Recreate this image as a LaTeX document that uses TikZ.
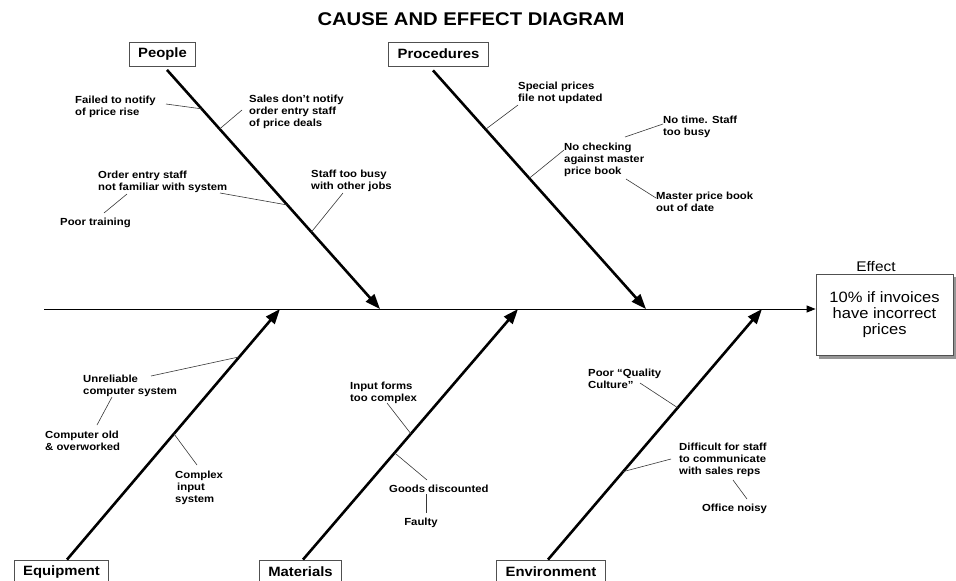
\documentclass[tikz,border=0pt]{standalone}
\usepackage{fontspec}
\setmainfont{Liberation Sans}[FakeStretch=1.1]
\usepackage{tikz}
\usetikzlibrary{arrows.meta,calc,backgrounds}
\definecolor{twiggray}{RGB}{55,55,55}
\definecolor{boxgray}{RGB}{80,80,80}
\definecolor{shadowgray}{RGB}{150,150,150}

\begin{document}
\begin{tikzpicture}[x=1pt, y=-1pt,
    catbox/.style={draw=boxgray, line width=0.8pt, fill=white, inner xsep=9pt, minimum height=24pt,
        font=\fontsize{13.5}{16}\selectfont\bfseries},
    bone/.style={line width=2.6pt, -{Triangle[length=15pt, width=11pt]}},
    twig/.style={twiggray, line width=0.6pt},
    cause/.style={font=\fontsize{10.3}{12}\selectfont\bfseries, align=left, inner sep=0pt, anchor=west}]
    % Frame
    \useasboundingbox (0,0) rectangle (956,581);
    \clip (0,0) rectangle (956,581);

    % Title
    \node[font=\fontsize{18.4}{22}\selectfont\bfseries] (title) at (471,19.5) {CAUSE AND EFFECT DIAGRAM};

    % Effect
    \node[draw=boxgray, line width=0.8pt, fill=white, minimum width=137pt, minimum height=81pt,
        align=center, font=\fontsize{15}{16}\selectfont] (eff) at (884.5,314.5) {10\% if invoices\\have incorrect\\prices};
    \begin{scope}[on background layer]
        \fill[shadowgray] ([shift={(3.5,3.5)}]eff.north west) rectangle ([shift={(3.5,3.5)}]eff.south east);
    \end{scope}
    \node[font=\fontsize{14}{16}\selectfont] (efflbl) at (876,266) {Effect};

    % Spine
    \coordinate (tail) at (44,309);
    \draw[line width=1pt, -{Triangle[length=9pt, width=7pt]}] (tail) -- (tail -| eff.west);

    % Categories
    \node[catbox] (ppl) at (162.5,54.5) {People};
    \node[catbox] (proc) at (438.5,54) {Procedures};
    \node[catbox] (equip) at (61.5,572) {Equipment};
    \node[catbox] (mat) at (300.5,572) {Materials};
    \node[catbox] (env) at (551,572) {Environment};

    % Bones
    \coordinate (p0) at ([shift={(4.5,3)}]ppl.south);
    \coordinate (r0) at ([shift={(-5.5,4)}]proc.south);
    \coordinate (e0) at ([shift={(5.5,0)}]equip.north);
    \coordinate (m0) at ([shift={(2.5,0)}]mat.north);
    \coordinate (v0) at ([shift={(-3,0)}]env.north);
    \coordinate (p1) at (380,309);
    \coordinate (r1) at (646,309);
    \coordinate (e1) at (280,309);
    \coordinate (m1) at (518,309);
    \coordinate (v1) at (762,309);
    \draw[bone] (p0) -- (p1);
    \draw[bone] (r0) -- (r1);
    \draw[bone] (e0) -- (e1);
    \draw[bone] (m0) -- (m1);
    \draw[bone] (v0) -- (v1);

    % People causes
    \node[cause] (fail) at (75,106.5) {Failed to notify\\of price rise};
    \node[cause] (sales) at (249,112) {Sales don’t notify\\order entry staff\\of price deals};
    \node[cause] (entry) at (98,181.5) {Order entry staff\\not familiar with system};
    \node[cause] (training) at (60,223) {Poor training};
    \node[cause] (busy) at (311,181) {Staff too busy\\with other jobs};
    \coordinate (fail-t) at (166,104);
    \coordinate (sales-t) at (242,110);
    \coordinate (entry-t) at (220,193);
    \coordinate (busy-t) at (343,193);
    \draw[twig] (fail-t) -- ($(p0)!0.163!(p1)$);
    \draw[twig] (sales-t) -- ($(p0)!0.247!(p1)$);
    \draw[twig] (entry-t) -- ($(p0)!0.565!(p1)$);
    \draw[twig] (busy-t) -- ($(p0)!0.678!(p1)$);
    \draw[twig] (104,213) -- (127,194);

    % Procedures causes
    \node[cause] (special) at (518,93) {Special prices\\file not updated};
    \node[cause] (check) at (564,160) {No checking\\against master\\price book};
    \node[cause] (notime) at (663,127) {No time. Staff\\too busy};
    \node[cause] (master) at (656,201.5) {Master price book\\out of date};
    \coordinate (special-t) at (518,105);
    \coordinate (check-t) at (564,150);
    \draw[twig] (special-t) -- ($(r0)!0.247!(r1)$);
    \draw[twig] (check-t) -- ($(r0)!0.452!(r1)$);
    \draw[twig] (663,124) -- (625,137);
    \draw[twig] (656,198) -- (626,179);

    % Equipment causes
    \node[cause] (unrel) at (83,386) {Unreliable\\computer system};
    \node[cause] (old) at (45,441) {Computer old\\\& overworked};
    \node[cause] (complex) at (175,488) {Complex\\\hspace{2pt}input\\system};
    \coordinate (unrel-t) at (151,376);
    \coordinate (complex-t) at (197,465);
    \draw[twig] (unrel-t) -- ($(e0)!0.809!(e1)$);
    \draw[twig] (complex-t) -- ($(e0)!0.502!(e1)$);
    \draw[twig] (97,425) -- (112,397);

    % Materials causes
    \node[cause] (forms) at (350,393) {Input forms\\too complex};
    \node[cause] (goods) at (389,489) {Goods discounted};
    \node[cause, anchor=center] (faulty) at (421,523) {Faulty};
    \coordinate (forms-t) at (387,403);
    \coordinate (goods-t) at (427,480);
    \draw[twig] (forms-t) -- ($(m0)!0.502!(m1)$);
    \draw[twig] (goods-t) -- ($(m0)!0.426!(m1)$);
    \draw[twig] (426,494) -- (426,513);

    % Environment causes
    \node[cause] (culture) at (588,379) {Poor “Quality\\Culture”};
    \node[cause] (reps) at (679,460) {Difficult for staff\\to communicate\\with sales reps};
    \node[cause, anchor=center] (noisy) at (734.5,509) {Office noisy};
    \coordinate (culture-t) at (640,383);
    \coordinate (reps-t) at (671,459);
    \draw[twig] (culture-t) -- ($(v0)!0.606!(v1)$);
    \draw[twig] (reps-t) -- ($(v0)!0.351!(v1)$);
    \draw[twig] (733,480) -- (747,499);
\end{tikzpicture}
\end{document}
